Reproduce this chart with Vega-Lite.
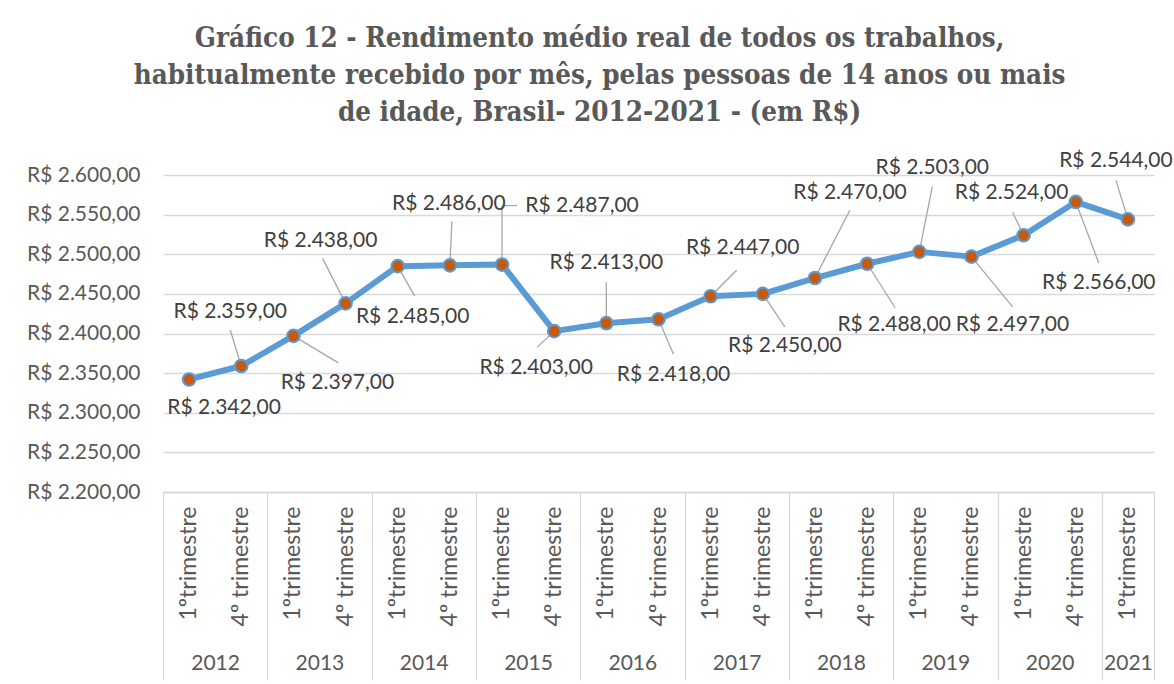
{
  "$schema": "https://vega.github.io/schema/vega-lite/v6.json",
  "width": 991,
  "height": 317,
  "autosize": "none",
  "padding": {"left": 163, "top": 175, "right": 20, "bottom": 192},
  "background": "white",
  "config": {
    "view": {"stroke": null},
    "font": "Lato",
    "locale": {"number": {"decimal": ",", "thousands": ".", "grouping": [3], "currency": ["R$ ", ""]}}
  },
  "title": {
    "text": [
      "Gráfico 12 - Rendimento médio real de todos os trabalhos,",
      "habitualmente recebido por mês, pelas pessoas de 14 anos ou mais",
      "de idade, Brasil- 2012-2021 - (em R$)"
    ],
    "font": "DejaVu Serif Condensed, DejaVu Serif, serif",
    "fontSize": 27.5,
    "fontWeight": "bold",
    "color": "#595959",
    "lineHeight": 37,
    "anchor": "middle",
    "frame": "bounds",
    "offset": 24
  },
  "data": {
    "values": [
      {"k": "2012-1", "ano": "2012", "trimestre": "1ºtrimestre", "v": 2342},
      {"k": "2012-4", "ano": "2012", "trimestre": "4º trimestre", "v": 2359},
      {"k": "2013-1", "ano": "2013", "trimestre": "1ºtrimestre", "v": 2397},
      {"k": "2013-4", "ano": "2013", "trimestre": "4º trimestre", "v": 2438},
      {"k": "2014-1", "ano": "2014", "trimestre": "1ºtrimestre", "v": 2485},
      {"k": "2014-4", "ano": "2014", "trimestre": "4º trimestre", "v": 2486},
      {"k": "2015-1", "ano": "2015", "trimestre": "1ºtrimestre", "v": 2487},
      {"k": "2015-4", "ano": "2015", "trimestre": "4º trimestre", "v": 2403},
      {"k": "2016-1", "ano": "2016", "trimestre": "1ºtrimestre", "v": 2413},
      {"k": "2016-4", "ano": "2016", "trimestre": "4º trimestre", "v": 2418},
      {"k": "2017-1", "ano": "2017", "trimestre": "1ºtrimestre", "v": 2447},
      {"k": "2017-4", "ano": "2017", "trimestre": "4º trimestre", "v": 2450},
      {"k": "2018-1", "ano": "2018", "trimestre": "1ºtrimestre", "v": 2470},
      {"k": "2018-4", "ano": "2018", "trimestre": "4º trimestre", "v": 2488},
      {"k": "2019-1", "ano": "2019", "trimestre": "1ºtrimestre", "v": 2503},
      {"k": "2019-4", "ano": "2019", "trimestre": "4º trimestre", "v": 2497},
      {"k": "2020-1", "ano": "2020", "trimestre": "1ºtrimestre", "v": 2524},
      {"k": "2020-4", "ano": "2020", "trimestre": "4º trimestre", "v": 2566},
      {"k": "2021-1", "ano": "2021", "trimestre": "1ºtrimestre", "v": 2544}
    ]
  },
  "encoding": {
    "y": {
      "field": "v",
      "type": "quantitative",
      "scale": {"domain": [2200, 2600], "nice": false, "zero": false},
      "axis": {
        "title": null,
        "values": [2200, 2250, 2300, 2350, 2400, 2450, 2500, 2550, 2600],
        "format": "$,.2f",
        "labelFont": "Lato",
        "labelFontSize": 21,
        "labelColor": "#595959",
        "ticks": false,
        "domain": false,
        "gridColor": "#D9D9D9",
        "gridWidth": 1.3,
        "labelPadding": 23
      }
    }
  },
  "layer": [
    {
      "mark": {"type": "line", "color": "#5B9BD5", "strokeWidth": 6, "strokeJoin": "round", "strokeCap": "round"},
      "encoding": {
        "x": {
          "field": "k", "type": "ordinal", "sort": null,
          "scale": {"type": "band", "paddingInner": 0, "paddingOuter": 0},
          "axis": {
            "title": null,
            "orient": "bottom",
            "labelExpr": "datum.value && slice(datum.value, 5) == '1' ? '1ºtrimestre' : '4º trimestre'",
            "labelAngle": -90,
            "labelAlign": "right",
            "labelBaseline": "middle",
            "labelFont": "Lato",
            "labelFontSize": 23,
            "labelColor": "#595959",
            "labelPadding": 14,
            "ticks": false,
            "grid": false,
            "domainColor": "#D9D9D9",
            "domainWidth": 1.3
          }
        }
      }
    },
    {
      "transform": [{"filter": "datum.k != '2012-1'"}],
      "mark": {
        "type": "rule",
        "color": "#A6A6A6",
        "strokeWidth": 1.3,
        "x2Offset": {"expr": "[0,-11,45,-23,17,2,0,-17,0,15,26,22,35,28,13,41,-11,23,-12][indexof(['2012-1','2012-4','2013-1','2013-4','2014-1','2014-4','2015-1','2015-4','2016-1','2016-4','2017-1','2017-4','2018-1','2018-4','2019-1','2019-4','2020-1','2020-4','2021-1'], datum.k)]"},
        "y2Offset": {"expr": "[0,-36,27,-45,30,-44,-59,16,-41,35,-26,33,-68,44,-65,50,-23,61,-39][indexof(['2012-1','2012-4','2013-1','2013-4','2014-1','2014-4','2015-1','2015-4','2016-1','2016-4','2017-1','2017-4','2018-1','2018-4','2019-1','2019-4','2020-1','2020-4','2021-1'], datum.k)]"}
      },
      "encoding": {
        "x": {"field": "k", "type": "ordinal", "sort": null, "scale": {"type": "band", "paddingInner": 0, "paddingOuter": 0}, "axis": null},
        "x2": {"field": "k"},
        "y2": {"field": "v"}
      }
    },
    {
      "transform": [{"filter": "datum.k == '2015-1'"}],
      "mark": {"type": "rule", "color": "#A6A6A6", "strokeWidth": 1.3, "yOffset": -59, "x2Offset": 15, "y2Offset": -59},
      "encoding": {
        "x": {"field": "k", "type": "ordinal", "sort": null, "scale": {"type": "band", "paddingInner": 0, "paddingOuter": 0}, "axis": null},
        "x2": {"field": "k"},
        "y2": {"field": "v"}
      }
    },
    {
      "mark": {"type": "circle", "color": "#C55A11", "opacity": 1, "stroke": "#5B9BD5", "strokeWidth": 2, "size": 160},
      "encoding": {
        "x": {
          "field": "k", "type": "ordinal", "sort": null,
          "scale": {"type": "band", "paddingInner": 0, "paddingOuter": 0},
          "axis": {
            "title": null,
            "orient": "bottom",
            "labelExpr": "datum.value && slice(datum.value, 5) == '1' ? slice(datum.value, 0, 4) : ''",
            "labelAngle": 0,
            "labelAlign": "center",
            "labelBaseline": "middle",
            "labelFont": "Lato",
            "labelFontSize": 21,
            "labelColor": "#595959",
            "labelOffset": {"condition": {"test": "datum.value == '2021-1'", "value": 0}, "value": 26},
            "labelPadding": -17,
            "tickBand": "extent",
            "tickSize": 188,
            "tickColor": "#D9D9D9",
            "tickWidth": 1.3,
            "tickOpacity": {"condition": {"test": "!datum.value || slice(datum.value, 5) == '4' || datum.value == '2021-1'", "value": 1}, "value": 0},
            "domain": false,
            "grid": false
          }
        }
      }
    },
    {
      "mark": {
        "type": "text",
        "font": "Lato",
        "fontSize": 21,
        "color": "#404040",
        "align": "center",
        "baseline": "middle",
        "dx": {"expr": "[35,-11,44,-25,15,-1,80,-18,0,15,32,22,35,27,13,41,-12,23,-12][indexof(['2012-1','2012-4','2013-1','2013-4','2014-1','2014-4','2015-1','2015-4','2016-1','2016-4','2017-1','2017-4','2018-1','2018-4','2019-1','2019-4','2020-1','2020-4','2021-1'], datum.k)]"},
        "dy": {"expr": "[29,-54,47,-62,51,-61,-59,37,-60,56,-48,52,-85,61,-84,68,-42,81,-58][indexof(['2012-1','2012-4','2013-1','2013-4','2014-1','2014-4','2015-1','2015-4','2016-1','2016-4','2017-1','2017-4','2018-1','2018-4','2019-1','2019-4','2020-1','2020-4','2021-1'], datum.k)]"}
      },
      "encoding": {
        "x": {"field": "k", "type": "ordinal", "sort": null, "scale": {"type": "band", "paddingInner": 0, "paddingOuter": 0}, "axis": null},
        "text": {"field": "v", "type": "quantitative", "format": "$,.2f"}
      }
    }
  ],
  "resolve": {"axis": {"x": "independent"}}
}
